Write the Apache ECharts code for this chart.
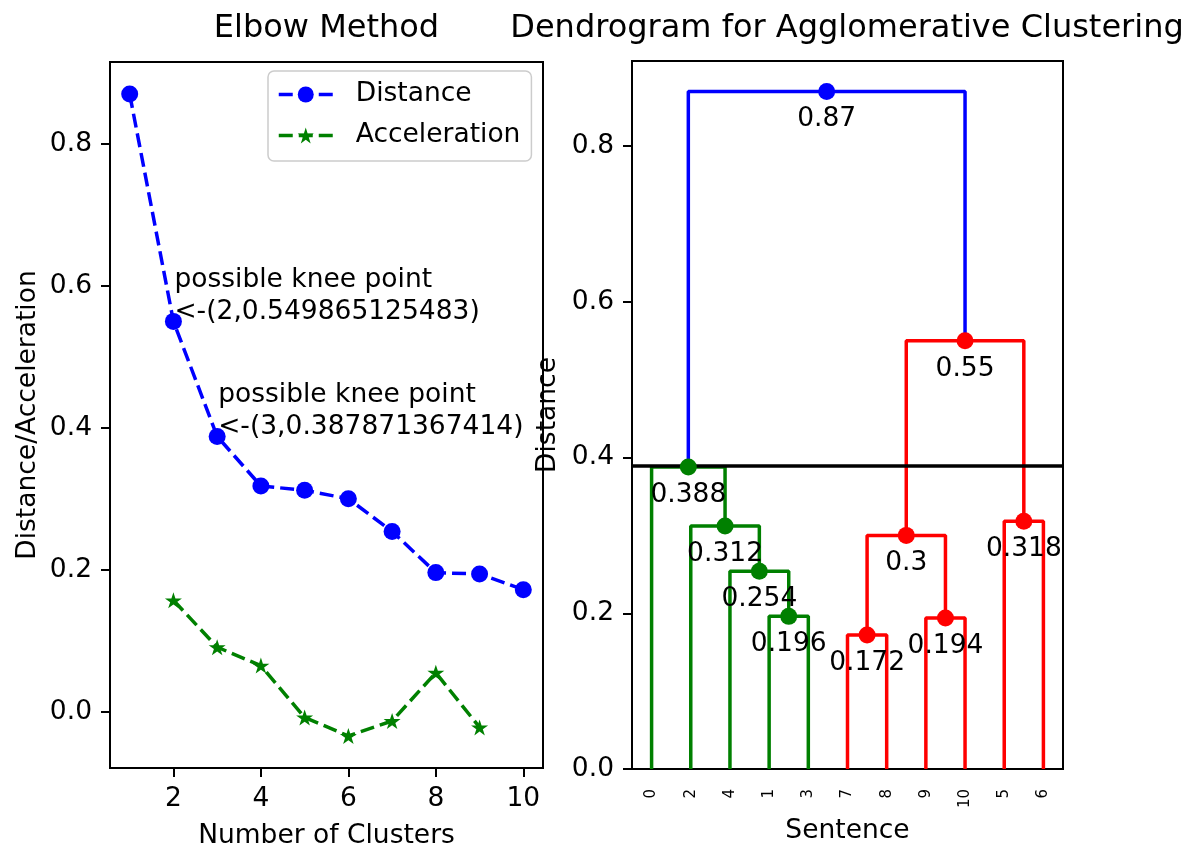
<!DOCTYPE html>
<html><head><meta charset="utf-8">
<script src="https://cdn.jsdelivr.net/npm/echarts@6/dist/echarts.min.js"></script>
<style>html,body{margin:0;padding:0;background:#fff}#c{width:1184px;height:846px}</style>
</head><body><div id="c"></div>
<script>
// ---- data ----
const clusters = [1,2,3,4,5,6,7,8,9,10];
const distances = [0.87,0.549865125483,0.387871367414,0.318,0.312,0.3,0.254,0.196,0.194,0.172];
const accelClusters = [2,3,4,5,6,7,8,9];
const accelerations = [0.157,0.091,0.065,-0.008,-0.034,-0.013,0.055,-0.022];
const kneeClusters = [2,3];
const elbowTicksX = [2,4,6,8,10];
const elbowTicksY = [0,0.2,0.4,0.6,0.8];
const leafLabels = ['0','2','4','1','3','7','8','9','10','5','6'];
const mergeA = ['1','4','2','0','7','9','#4','5','#6','#3'];
const mergeB = ['3','#0','#1','#2','8','10','#5','6','#7','#8'];
const mergeHeights = [0.196,0.254,0.312,0.387871367414,0.172,0.194,0.3,0.318,0.549865125483,0.87];
const mergeColors = ['g','g','g','g','r','r','r','r','r','b'];
const cutHeight = 0.388;
const dendroTicksY = [0,0.2,0.4,0.6,0.8];

// ---- build ----
const FONT = 'DejaVu Sans';
const FS = 26.5;
const colorMap = {g:'#008000', r:'#ff0000', b:'#0000ff'};
const STAR = 'path://M50,0L61.23,34.55L97.55,34.55L68.16,55.9L79.39,90.45L50,69.1L20.61,90.45L31.84,55.9L2.45,34.55L38.77,34.55Z';

const mx = [];
function ref(id){
  if (id[0] === '#') { const m = +id.slice(1); return {x: mx[m], y: mergeHeights[m]}; }
  const p = leafLabels.indexOf(id); return {x: 10*p+5, y: 0};
}
mergeA.forEach((a,i)=>{ const A = ref(a), B = ref(mergeB[i]); mx[i] = (A.x+B.x)/2; });
const leafPos = leafLabels.map((_,i)=>10*i+5);
const fmt3 = v => String(parseFloat(v.toPrecision(3)));

const allY = distances.concat(accelerations);
const yLo = Math.min(...allY), yHi = Math.max(...allY), yPad = 0.05*(yHi-yLo);
const xLo = Math.min(...clusters), xHi = Math.max(...clusters), xPad = 0.05*(xHi-xLo);
const dMax = Math.max(...mergeHeights)*1.045;

const txt = {fontFamily: FONT, fontSize: FS, color: '#000'};
const tickStyle = {color:'#000', width:2};

const linkSeries = mergeA.map((a,i)=>{
  const A = ref(a), B = ref(mergeB[i]), h = mergeHeights[i];
  return {type:'line', xAxisIndex:1, yAxisIndex:1, silent:true, z:2,
    data:[[A.x,A.y],[A.x,h],[B.x,h],[B.x,B.y]], symbol:'none', showSymbol:false,
    lineStyle:{color:colorMap[mergeColors[i]], width:3.5}};
});

const option = {
  animation:false,
  backgroundColor:'#fff',
  textStyle:{fontFamily:FONT},
  grid:[
    {left:110, top:62, width:433, height:706, show:true, borderColor:'#000', borderWidth:2, backgroundColor:'transparent', outerBoundsMode:'none', containLabel:false},
    {left:632, top:61, width:431, height:708, show:true, borderColor:'#000', borderWidth:2, backgroundColor:'transparent', outerBoundsMode:'none', containLabel:false}
  ],
  graphic:[
    {type:'text', x:326.5, y:29, z:10, style:{text:'Elbow Method', fontSize:32, fontFamily:FONT, fill:'#000', align:'center', verticalAlign:'middle'}},
    {type:'text', x:847, y:29, z:10, style:{text:'Dendrogram for Agglomerative Clustering', fontSize:32, fontFamily:FONT, fill:'#000', align:'center', verticalAlign:'middle'}}
  ],
  legend:{data:['Distance','Acceleration'], orient:'vertical', left:268, top:71, itemWidth:54, itemHeight:20, itemGap:14,
    padding:[10,11,12,9], textStyle:{fontSize:FS, fontFamily:FONT, color:'#000', lineHeight:26, padding:[0,0,0,18]},
    lineStyle:{width:3.5},
    borderColor:'#cccccc', borderWidth:1.5, borderRadius:6, backgroundColor:'rgba(255,255,255,0.8)'},
  xAxis:[
    {type:'value', gridIndex:0, min:xLo-xPad, max:xHi+xPad,
      axisLine:{show:true, onZero:false, lineStyle:tickStyle}, splitLine:{show:false},
      axisTick:{show:true, customValues:elbowTicksX, length:9, lineStyle:tickStyle},
      axisLabel:Object.assign({customValues:elbowTicksX, margin:18, formatter:v=>String(v)}, txt),
      name:'Number of Clusters', nameLocation:'middle', nameGap:55, nameTextStyle:txt},
    {type:'value', gridIndex:1, min:0, max:10*leafLabels.length,
      axisLine:{show:true, onZero:false, lineStyle:tickStyle}, splitLine:{show:false},
      axisTick:{show:false},
      axisLabel:{customValues:leafPos, margin:20, rotate:90, fontFamily:FONT, fontSize:15, color:'#000',
        formatter:v=>leafLabels[Math.round((v-5)/10)]},
      name:'Sentence', nameLocation:'middle', nameGap:49, nameTextStyle:txt}
  ],
  yAxis:[
    {type:'value', gridIndex:0, min:yLo-yPad, max:yHi+yPad,
      axisLine:{show:true, onZero:false, lineStyle:tickStyle}, splitLine:{show:false},
      axisTick:{show:true, customValues:elbowTicksY, length:9, lineStyle:tickStyle},
      axisLabel:Object.assign({customValues:elbowTicksY, margin:18, formatter:v=>v.toFixed(1)}, txt),
      name:'Distance/Acceleration', nameLocation:'middle', nameGap:68, nameTextStyle:txt},
    {type:'value', gridIndex:1, min:0, max:dMax,
      axisLine:{show:true, onZero:false, lineStyle:tickStyle}, splitLine:{show:false},
      axisTick:{show:true, customValues:dendroTicksY, length:9, lineStyle:tickStyle},
      axisLabel:Object.assign({customValues:dendroTicksY, margin:18, formatter:v=>v.toFixed(1)}, txt),
      name:'Distance', nameLocation:'middle', nameGap:70, nameTextStyle:txt}
  ],
  series:[
    {name:'Distance', type:'line', xAxisIndex:0, yAxisIndex:0, z:3,
      symbol:'circle', symbolSize:17, showSymbol:true,
      lineStyle:{color:'#0000ff', width:3.5, type:[14,6]}, itemStyle:{color:'#0000ff'},
      data: clusters.map((k,i)=>{
        const d = {value:[k, distances[i]]};
        if (kneeClusters.includes(k)) {
          d.label = {show:true, position:[9.5,15.5], align:'left', verticalAlign:'bottom', lineHeight:32,
            fontFamily:FONT, fontSize:FS, color:'#000',
            formatter:'possible knee point\n<-(' + k + ',' + distances[i] + ')'};
        }
        return d;
      })},
    {name:'Acceleration', type:'line', xAxisIndex:0, yAxisIndex:0, z:3,
      symbol:STAR, symbolSize:[17,16], showSymbol:true,
      lineStyle:{color:'#008000', width:3.5, type:[14,6]}, itemStyle:{color:'#008000'},
      data: accelClusters.map((k,i)=>[k, accelerations[i]])},
    ...linkSeries,
    {type:'line', xAxisIndex:1, yAxisIndex:1, data:[], silent:true, z:3,
      markLine:{symbol:'none', silent:true, label:{show:false}, z:3,
        lineStyle:{color:'#000', width:3.5, type:'solid'}, data:[{yAxis:cutHeight}]}},
    {type:'scatter', xAxisIndex:1, yAxisIndex:1, symbolSize:17, z:5, silent:true,
      itemStyle:{opacity:1},
      data: mergeHeights.map((h,i)=>({value:[mx[i], h], itemStyle:{color:colorMap[mergeColors[i]], opacity:1}})),
      label:{show:true, position:'bottom', distance:6, formatter:p=>fmt3(p.value[1]),
        fontFamily:FONT, fontSize:FS, color:'#000', opacity:1}}
  ]
};
const chart = echarts.init(document.getElementById('c'), null, {renderer:'canvas'});
chart.setOption(option);
</script></body></html>
